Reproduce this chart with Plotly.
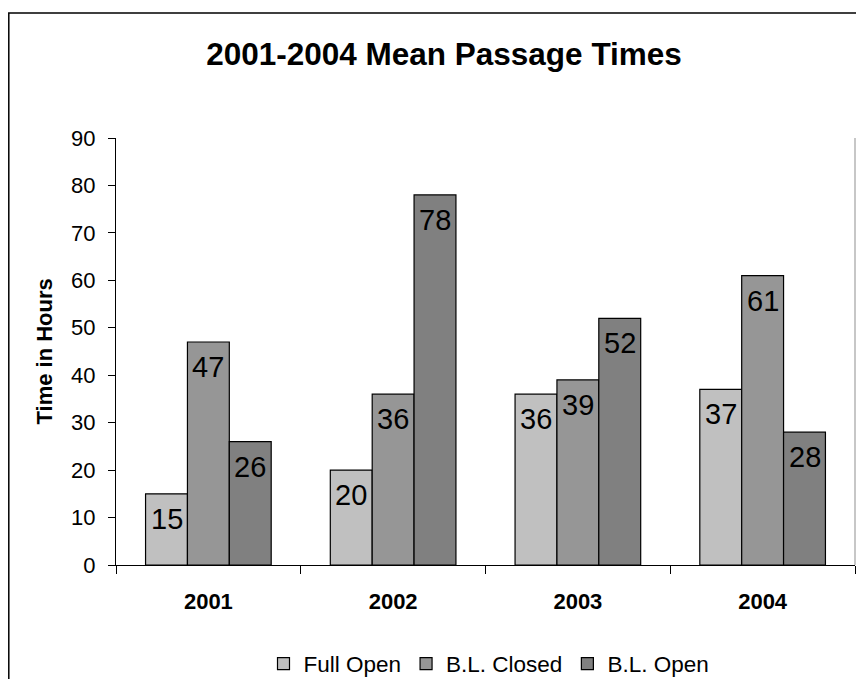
import plotly.graph_objects as go

years = ["2001", "2002", "2003", "2004"]
full_open = [15, 20, 36, 37]
bl_closed = [47, 36, 39, 61]
bl_open = [26, 78, 52, 28]

series = [
    ("Full Open", full_open, "#C0C0C0"),
    ("B.L. Closed", bl_closed, "#969696"),
    ("B.L. Open", bl_open, "#808080"),
]

# page body adds an 8px offset; figure sized to fit the window
OFF = 8
W, H = 864 - OFF, 679 - OFF
L, R, T, B = 116 - OFF, 9, 138 - OFF, 114
pw, ph = W - L - R, H - T - B
BARGAP = 0.32
bar_px = pw / len(years) * (1 - BARGAP) / len(series)


def px_x(p):
    return (p - OFF - L) / pw


def px_y(p):
    return (H - B - (p - OFF)) / ph


fig = go.Figure()
annotations = []
for i, (name, vals, col) in enumerate(series):
    fig.add_trace(go.Bar(
        x=years, y=vals, name=name,
        marker=dict(color=col, line=dict(color="black", width=1.2)),
    ))
    for j, v in enumerate(vals):
        # x given as the category index (numeric-looking names would be misread)
        annotations.append(dict(
            x=j, y=v, xref="x", yref="y", text=str(v), showarrow=False,
            xanchor="center", yanchor="middle",
            xshift=(i - 1) * bar_px, yshift=-25,
            font=dict(family="Arial, Liberation Sans", size=29, color="black"),
        ))

annotations.append(dict(text="<b>Time in Hours</b>", textangle=-90,
                        xref="paper", yref="paper", x=px_x(44), y=0.5,
                        xanchor="center", yanchor="middle", showarrow=False,
                        font=dict(size=22, color="black")))

fig.update_layout(
    width=W, height=H,
    margin=dict(l=L, r=R, t=T, b=B, autoexpand=False),
    paper_bgcolor="white", plot_bgcolor="white",
    barmode="group", bargap=BARGAP, bargroupgap=0,
    font=dict(family="Arial, Liberation Sans", color="black"),
    title=dict(text="<b>2001-2004 Mean Passage Times</b>",
               font=dict(size=31.5, color="black"),
               xref="paper", x=px_x(444), xanchor="center",
               yref="container", y=1 - (54 - OFF) / H, yanchor="middle"),
    showlegend=True,
    legend=dict(orientation="h", xref="paper", x=px_x(489), xanchor="center",
                yref="paper", y=px_y(664), yanchor="middle",
                font=dict(size=22.5), itemwidth=30, tracegroupgap=0,
                traceorder="normal"),
    xaxis=dict(type="category", categoryorder="array", categoryarray=years,
               range=[-0.5, len(years) - 0.5],
               showline=True, linecolor="black", linewidth=1.2,
               ticks="outside", tickson="boundaries", ticklen=8,
               tickcolor="black", tickwidth=1.2, automargin=False,
               tickfont=dict(size=22, color="black", weight="bold"),
               ticklabelstandoff=16, showgrid=False, zeroline=False),
    yaxis=dict(range=[0, 90], dtick=10, showline=True, linecolor="black",
               linewidth=1.2, ticks="outside", ticklen=7, tickcolor="black",
               tickwidth=1.2, tickfont=dict(size=22, color="black"),
               automargin=False,
               ticklabelstandoff=8, showgrid=False, zeroline=False),
    annotations=annotations,
    shapes=[
        dict(type="rect", xref="paper", yref="paper",
             x0=px_x(8.8), x1=px_x(900), y0=px_y(720), y1=px_y(13),
             line=dict(color="black", width=1.5), layer="below"),
        dict(type="line", xref="paper", yref="paper",
             x0=1, x1=1, y0=0, y1=1,
             line=dict(color="#B4B4B4", width=1.5)),
    ],
)

fig.write_html("out.html")
